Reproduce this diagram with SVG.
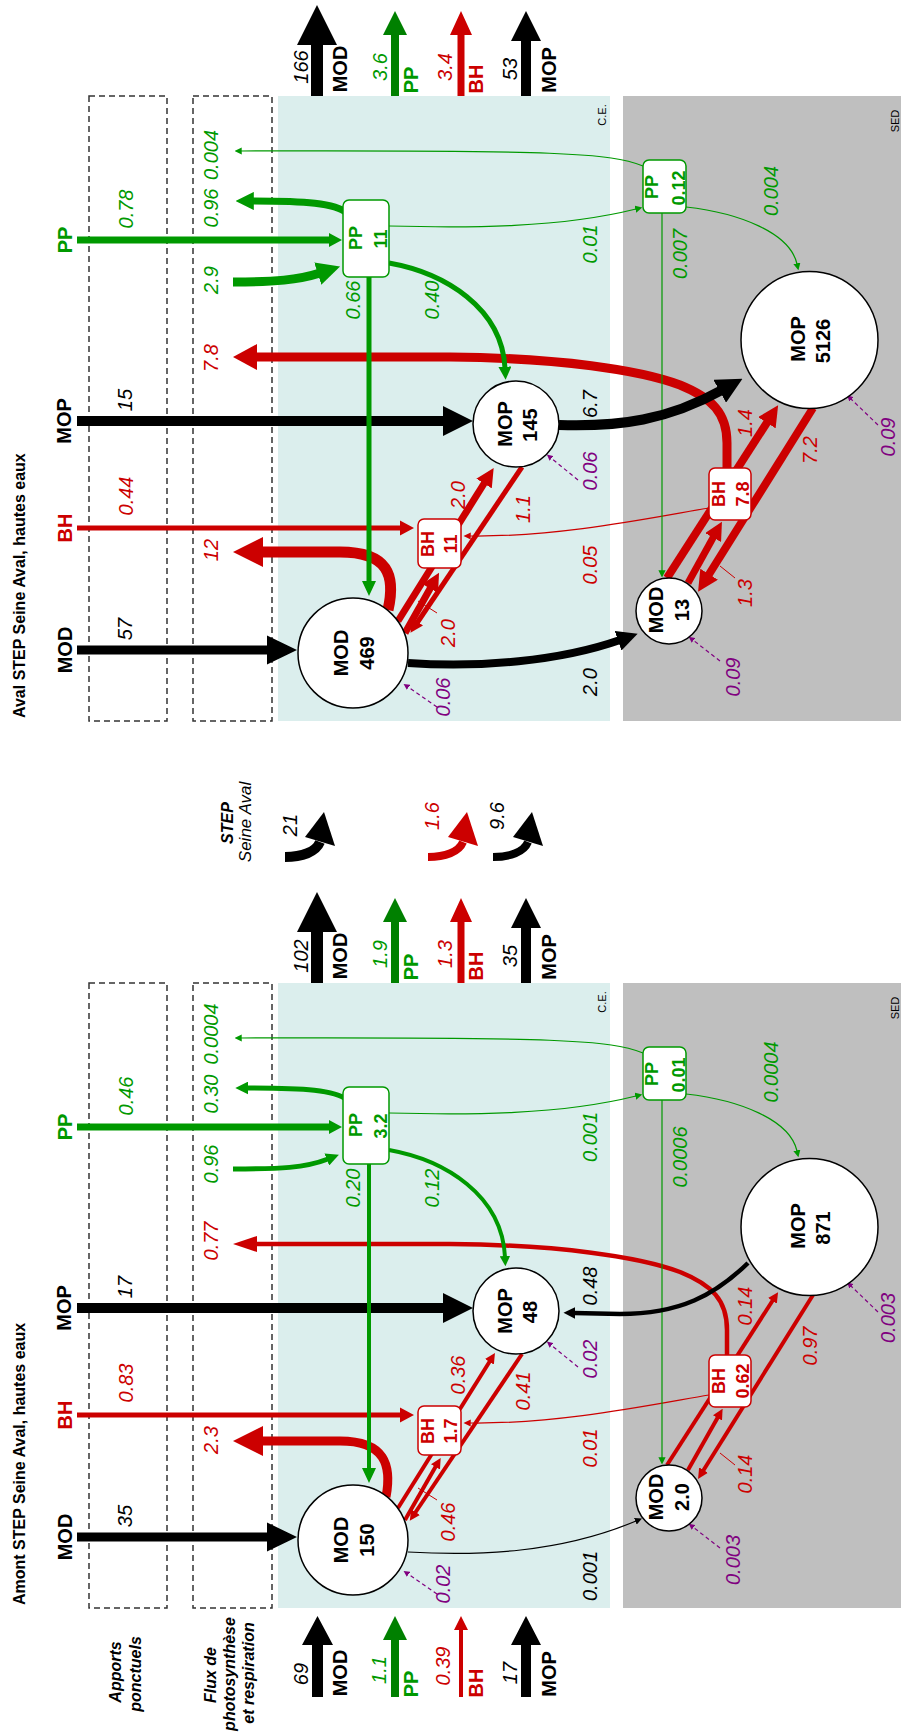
<svg xmlns="http://www.w3.org/2000/svg" width="901" height="1735" viewBox="0 0 901 1735">
<defs>
<style>
text{font-family:"Liberation Sans",Arial,sans-serif;text-anchor:middle}
.title{font-size:16px;font-weight:bold;text-anchor:start}
.leg{font-size:16px;font-weight:bold;font-style:italic}
.legi{font-size:17px;font-style:italic}
.sm{font-size:11px}
.vi{font-size:20px;font-style:italic}
.vb{font-size:20px;font-weight:bold}
.nb{font-size:20px;font-weight:bold}
.bx{font-size:18px;font-weight:bold}
.tg{fill:#009900}.tr{fill:#cc0000}.tk{fill:#000}.tp{fill:#800080}
.fk{fill:#000}.fr{fill:#cc0000}.fg{fill:#009900}.fgo{fill:#008000}
.sk{fill:none;stroke:#000}.sr{fill:none;stroke:#cc0000}.sg{fill:none;stroke:#009900}
.sp{fill:none;stroke:#800080;stroke-width:1.2;stroke-dasharray:4 3}
.dash{fill:none;stroke:#333;stroke-width:1.5;stroke-dasharray:6 4}
.ce{fill:#dbeeed}.sed{fill:#bfbfbf}
.nd{fill:#fff;stroke:#000;stroke-width:1.5}
.bg{fill:#fff;stroke:#009900;stroke-width:1.5}
.br{fill:#fff;stroke:#cc0000;stroke-width:1.5}
</style>
<marker id="mg" viewBox="0 0 10 10" refX="1" refY="5" markerWidth="2.6" markerHeight="2.6" orient="auto" markerUnits="strokeWidth"><path d="M0,0L10,5L0,10Z" fill="#009900"/></marker>
<marker id="mr" viewBox="0 0 10 10" refX="1" refY="5" markerWidth="2.6" markerHeight="2.6" orient="auto" markerUnits="strokeWidth"><path d="M0,0L10,5L0,10Z" fill="#cc0000"/></marker>
<marker id="mk" viewBox="0 0 10 10" refX="1" refY="5" markerWidth="2.6" markerHeight="2.6" orient="auto" markerUnits="strokeWidth"><path d="M0,0L10,5L0,10Z" fill="#000"/></marker>
<marker id="mgt" viewBox="0 0 10 10" refX="1" refY="5" markerWidth="6" markerHeight="6" orient="auto" markerUnits="strokeWidth"><path d="M0,0L10,5L0,10Z" fill="#009900"/></marker>
<marker id="mrt" viewBox="0 0 10 10" refX="1" refY="5" markerWidth="6" markerHeight="6" orient="auto" markerUnits="strokeWidth"><path d="M0,0L10,5L0,10Z" fill="#cc0000"/></marker>
<marker id="mkt" viewBox="0 0 10 10" refX="1" refY="5" markerWidth="6" markerHeight="6" orient="auto" markerUnits="strokeWidth"><path d="M0,0L10,5L0,10Z" fill="#000"/></marker>
<marker id="mpt" viewBox="0 0 10 10" refX="1" refY="5" markerWidth="5" markerHeight="5" orient="auto" markerUnits="strokeWidth"><path d="M0,0L10,5L0,10Z" fill="#800080"/></marker>
</defs>
<rect x="0" y="0" width="901" height="1735" fill="#fff"/>

<g id="amont">
<g id="amont-zones">
<rect class="dash" x="89" y="983" width="78" height="625"/>
<rect class="dash" x="193" y="983" width="79" height="625"/>
<rect class="ce" x="278" y="983" width="332" height="625"/>
<rect class="sed" x="623" y="983" width="290" height="625"/>
<text class="sm" transform="translate(606,1002) rotate(-90)">C.E.</text>
<text class="sm" transform="translate(899,1008) rotate(-90)">SED</text>
</g>
<text class="title" transform="translate(25,1605) rotate(-90)">Amont STEP Seine Aval, hautes eaux</text>
<g id="amont-legend">
<text class="leg" transform="translate(121,1672) rotate(-90)">Apports</text>
<text class="leg" transform="translate(141,1674) rotate(-90)">ponctuels</text>
<text class="leg" transform="translate(216,1675) rotate(-90)">Flux de</text>
<text class="leg" transform="translate(235,1674) rotate(-90)">photosynthèse</text>
<text class="leg" transform="translate(254,1673) rotate(-90)">et respiration</text>
</g>
<g id="amont-connectors">
<path class="fk" d="M77,1532.5H267V1522.5L297,1537L267,1551.5V1541.5H77Z"/>
<path class="fk" d="M77,1303H443V1293L473,1308L443,1323V1313H77Z"/>
<path class="fr" d="M77,1412.5H400V1407.5L414,1415L400,1422.5V1417.5H77Z"/>
<path class="fg" d="M77,1123.5H329V1120L342,1127L329,1134V1130.5H77Z"/>
<path class="fk" d="M311,983V932H297L317,892L337,932H323V983Z"/>
<path class="fgo" d="M391,983V922H383L395,898L407,922H399V983Z"/>
<path class="fr" d="M457.5,983V922H450L461,898L472,922H464.5V983Z"/>
<path class="fk" d="M521,983V928H511L526,898L541,928H531V983Z"/>
<path class="fk" d="M312,1697V1645H302L317.5,1616L333,1645H323V1697Z"/>
<path class="fgo" d="M391,1697V1640H383L395,1616L407,1640H399V1697Z"/>
<path class="fr" d="M459,1697V1630H454L461,1616L468,1630H463V1697Z"/>
<path class="fk" d="M521,1697V1645H511L526,1616L541,1645H531V1697Z"/>
<path class="sr" stroke-width="9" d="M386,1497C392,1465 385,1441 340,1441L262,1441"/>
<path class="fr" d="M263,1426L233,1441L263,1456Z"/>
<path class="sr" stroke-width="4.5" d="M727,1355L727,1330C727,1300 712,1285 680,1272C640,1257 560,1245 450,1244L256,1244"/>
<path class="fr" d="M257,1236L233,1244L257,1252Z"/>
<path class="sr" stroke-width="4" d="M398,1508L490,1361" marker-end="url(#mr)"/>
<path class="sr" stroke-width="4" d="M405,1520L436,1466" marker-end="url(#mr)"/>
<path class="sr" stroke-width="4" d="M522,1354L415,1513" marker-end="url(#mr)"/>
<path class="sr" stroke-width="1" d="M418,1488L437,1500"/>
<path class="sr" stroke-width="4" d="M667,1465L773,1300" marker-end="url(#mr)"/>
<path class="sr" stroke-width="4" d="M688,1470L718,1417" marker-end="url(#mr)"/>
<path class="sr" stroke-width="4" d="M813,1295L703,1471" marker-end="url(#mr)"/>
<path class="sr" stroke-width="1" d="M720,1453L735,1465"/>
<path class="sr" stroke-width="1.2" d="M709,1395C650,1405 560,1424 470,1423" marker-end="url(#mrt)"/>
<path class="fg" d="M367,1164V1468H362L369,1483L376,1468H371V1164Z"/>
<path class="sg" stroke-width="5" d="M233,1169C280,1169 305,1168 328,1159" marker-end="url(#mg)"/>
<path class="sg" stroke-width="5" d="M347,1100C335,1090 305,1088 247,1088" marker-end="url(#mg)"/>
<path class="sg" stroke-width="4" d="M389,1150C445,1160 502,1195 505,1257" marker-end="url(#mg)"/>
<path class="sg" stroke-width="1.2" d="M643,1053C610,1040 560,1037 241,1038" marker-end="url(#mgt)"/>
<path class="sg" stroke-width="1.2" d="M389,1113C470,1115 560,1115 636,1096" marker-end="url(#mgt)"/>
<path class="sg" stroke-width="1.2" d="M662,1100V1458" marker-end="url(#mgt)"/>
<path class="sg" stroke-width="1.2" d="M686,1094C740,1100 790,1120 797,1151" marker-end="url(#mgt)"/>
<path class="sk" stroke-width="4.5" d="M748,1263C715,1295 680,1314 620,1314L574,1313" marker-end="url(#mk)"/>
<path class="sk" stroke-width="1.2" d="M408,1552C480,1556 560,1553 636,1521" marker-end="url(#mkt)"/>
<path class="sp" d="M437,1594L408,1574" marker-end="url(#mpt)"/>
<path class="sp" d="M578,1367L551,1345" marker-end="url(#mpt)"/>
<path class="sp" d="M720,1548L693,1527" marker-end="url(#mpt)"/>
<path class="sp" d="M878,1312L851,1286" marker-end="url(#mpt)"/>
</g>
<g id="amont-mod-ce"><circle class="nd" cx="353" cy="1540" r="55"/><text class="nb" transform="translate(348,1540) rotate(-90)">MOD</text><text class="nb" transform="translate(374,1540) rotate(-90)">150</text></g>
<g id="amont-mop-ce"><circle class="nd" cx="516" cy="1311" r="43"/><text class="nb" transform="translate(512,1311) rotate(-90)">MOP</text><text class="nb" transform="translate(537,1312) rotate(-90)">48</text></g>
<g id="amont-mop-sed"><circle class="nd" cx="809.5" cy="1227" r="68.5"/><text class="nb" transform="translate(805,1226) rotate(-90)">MOP</text><text class="nb" transform="translate(830,1228) rotate(-90)">871</text></g>
<g id="amont-mod-sed"><circle class="nd" cx="669" cy="1498" r="33"/><text class="nb" transform="translate(663,1497) rotate(-90)">MOD</text><text class="nb" transform="translate(689,1497) rotate(-90)">2.0</text></g>
<g id="amont-pp-ce"><rect class="bg" x="343" y="1087" width="46" height="77" rx="6"/><text class="bx tg" transform="translate(362,1125) rotate(-90)">PP</text><text class="bx tg" transform="translate(387,1126) rotate(-90)">3.2</text></g>
<g id="amont-pp-sed"><rect class="bg" x="643" y="1047" width="43" height="53" rx="6"/><text class="bx tg" transform="translate(658,1074) rotate(-90)">PP</text><text class="bx tg" transform="translate(685,1075) rotate(-90)">0.01</text></g>
<g id="amont-bh-ce"><rect class="br" x="418" y="1406" width="43" height="49" rx="6"/><text class="bx tr" transform="translate(434,1431) rotate(-90)">BH</text><text class="bx tr" transform="translate(457,1431) rotate(-90)">1.7</text></g>
<g id="amont-bh-sed"><rect class="br" x="709" y="1355" width="42" height="52" rx="6"/><text class="bx tr" transform="translate(725,1381) rotate(-90)">BH</text><text class="bx tr" transform="translate(749,1381) rotate(-90)">0.62</text></g>
<g id="amont-labels">
<text class="vb tk" transform="translate(72,1537) rotate(-90)">MOD</text>
<text class="vi tk" transform="translate(132,1516) rotate(-90)">35</text>
<text class="vb tk" transform="translate(71,1308) rotate(-90)">MOP</text>
<text class="vi tk" transform="translate(132,1287) rotate(-90)">17</text>
<text class="vb tr" transform="translate(72,1415) rotate(-90)">BH</text>
<text class="vi tr" transform="translate(133,1383) rotate(-90)">0.83</text>
<text class="vb tg" transform="translate(72,1127) rotate(-90)">PP</text>
<text class="vi tg" transform="translate(133,1096) rotate(-90)">0.46</text>
<text class="vi tr" transform="translate(218,1440) rotate(-90)">2.3</text>
<text class="vi tr" transform="translate(218,1241) rotate(-90)">0.77</text>
<text class="vi tg" transform="translate(218,1164) rotate(-90)">0.96</text>
<text class="vi tg" transform="translate(218,1094) rotate(-90)">0.30</text>
<text class="vi tg" transform="translate(218,1034) rotate(-90)">0.0004</text>
<text class="vi tg" transform="translate(597,1137) rotate(-90)">0.001</text>
<text class="vi tk" transform="translate(597,1286) rotate(-90)">0.48</text>
<text class="vi tp" transform="translate(597,1359) rotate(-90)">0.02</text>
<text class="vi tr" transform="translate(597,1448) rotate(-90)">0.01</text>
<text class="vi tk" transform="translate(597,1576) rotate(-90)">0.001</text>
<text class="vi tg" transform="translate(687,1157) rotate(-90)">0.0006</text>
<text class="vi tg" transform="translate(778,1072) rotate(-90)">0.0004</text>
<text class="vi tr" transform="translate(752,1306) rotate(-90)">0.14</text>
<text class="vi tr" transform="translate(817,1346) rotate(-90)">0.97</text>
<text class="vi tr" transform="translate(752,1474) rotate(-90)">0.14</text>
<text class="vi tp" transform="translate(895,1318) rotate(-90)">0.003</text>
<text class="vi tp" transform="translate(740,1560) rotate(-90)">0.003</text>
<text class="vi tg" transform="translate(360,1188) rotate(-90)">0.20</text>
<text class="vi tg" transform="translate(439,1188) rotate(-90)">0.12</text>
<text class="vi tr" transform="translate(465,1375) rotate(-90)">0.36</text>
<text class="vi tr" transform="translate(530,1391) rotate(-90)">0.41</text>
<text class="vi tr" transform="translate(455,1522) rotate(-90)">0.46</text>
<text class="vi tp" transform="translate(450,1584) rotate(-90)">0.02</text>
<text class="vi tk" transform="translate(308,956) rotate(-90)">102</text>
<text class="vb tk" transform="translate(347,956) rotate(-90)">MOD</text>
<text class="vi tg" transform="translate(387,954) rotate(-90)">1.9</text>
<text class="vb tg" transform="translate(418,967) rotate(-90)">PP</text>
<text class="vi tr" transform="translate(452,954) rotate(-90)">1.3</text>
<text class="vb tr" transform="translate(483,966) rotate(-90)">BH</text>
<text class="vi tk" transform="translate(517,956) rotate(-90)">35</text>
<text class="vb tk" transform="translate(556,957) rotate(-90)">MOP</text>
<text class="vi tk" transform="translate(308,1674) rotate(-90)">69</text>
<text class="vb tk" transform="translate(347,1673) rotate(-90)">MOD</text>
<text class="vi tg" transform="translate(386,1670) rotate(-90)">1.1</text>
<text class="vb tg" transform="translate(418,1684) rotate(-90)">PP</text>
<text class="vi tr" transform="translate(450,1666) rotate(-90)">0.39</text>
<text class="vb tr" transform="translate(483,1683) rotate(-90)">BH</text>
<text class="vi tk" transform="translate(517,1673) rotate(-90)">17</text>
<text class="vb tk" transform="translate(556,1674) rotate(-90)">MOP</text>
</g>
</g>

<g id="aval" transform="translate(0,-887)">
<g id="aval-zones">
<rect class="dash" x="89" y="983" width="78" height="625"/>
<rect class="dash" x="193" y="983" width="79" height="625"/>
<rect class="ce" x="278" y="983" width="332" height="625"/>
<rect class="sed" x="623" y="983" width="290" height="625"/>
<text class="sm" transform="translate(606,1002) rotate(-90)">C.E.</text>
<text class="sm" transform="translate(899,1008) rotate(-90)">SED</text>
</g>
<text class="title" transform="translate(25,1605) rotate(-90)">Aval STEP Seine Aval, hautes eaux</text>
<g id="aval-connectors">
<path class="fk" d="M77,1532.5H267V1522.5L297,1537L267,1551.5V1541.5H77Z"/>
<path class="fk" d="M77,1303H443V1293L473,1308L443,1323V1313H77Z"/>
<path class="fr" d="M77,1412.5H400V1407.5L414,1415L400,1422.5V1417.5H77Z"/>
<path class="fg" d="M77,1123.5H329V1120L342,1127L329,1134V1130.5H77Z"/>
<path class="fk" d="M311,983V932H297L317,892L337,932H323V983Z"/>
<path class="fgo" d="M391,983V922H383L395,898L407,922H399V983Z"/>
<path class="fr" d="M457.5,983V922H450L461,898L472,922H464.5V983Z"/>
<path class="fk" d="M521,983V928H511L526,898L541,928H531V983Z"/>
<path class="sr" stroke-width="11" d="M388,1497C396,1462 388,1439 340,1439L262,1439"/>
<path class="fr" d="M263,1424L233,1439L263,1454Z"/>
<path class="sr" stroke-width="9" d="M727,1355L727,1330C727,1300 712,1285 680,1272C640,1257 560,1245 450,1244L256,1244"/>
<path class="fr" d="M257,1231L233,1244L257,1257Z"/>
<path class="sr" stroke-width="7" d="M398,1508L485,1369" marker-end="url(#mr)"/>
<path class="sr" stroke-width="7" d="M405,1520L431,1474" marker-end="url(#mr)"/>
<path class="sr" stroke-width="5" d="M522,1354L417,1510" marker-end="url(#mr)"/>
<path class="sr" stroke-width="1" d="M418,1488L437,1500"/>
<path class="sr" stroke-width="8" d="M667,1465L768,1308" marker-end="url(#mr)"/>
<path class="sr" stroke-width="7" d="M688,1470L714,1423" marker-end="url(#mr)"/>
<path class="sr" stroke-width="8" d="M813,1295L708,1463" marker-end="url(#mr)"/>
<path class="sr" stroke-width="1" d="M720,1453L735,1465"/>
<path class="sr" stroke-width="1.2" d="M709,1395C650,1405 560,1424 470,1423" marker-end="url(#mrt)"/>
<path class="fg" d="M366.5,1164V1468H362L369,1483L376,1468H371.5V1164Z"/>
<path class="sg" stroke-width="9" d="M233,1169C275,1169 298,1167 320,1160" marker-end="url(#mg)"/>
<path class="sg" stroke-width="7" d="M347,1100C335,1090 305,1088 252,1088" marker-end="url(#mg)"/>
<path class="sg" stroke-width="5" d="M389,1150C445,1160 502,1195 505,1255" marker-end="url(#mg)"/>
<path class="sg" stroke-width="1.2" d="M643,1053C610,1040 560,1037 241,1038" marker-end="url(#mgt)"/>
<path class="sg" stroke-width="1.2" d="M389,1113C470,1115 560,1115 636,1096" marker-end="url(#mgt)"/>
<path class="sg" stroke-width="1.2" d="M662,1100V1458" marker-end="url(#mgt)"/>
<path class="sg" stroke-width="1.2" d="M686,1094C740,1100 790,1120 797,1151" marker-end="url(#mgt)"/>
<path class="sk" stroke-width="10" d="M559,1312C620,1314 668,1307 722,1277" marker-end="url(#mk)"/>
<path class="sk" stroke-width="8" d="M408,1550C480,1555 560,1548 620,1527" marker-end="url(#mk)"/>
<path class="sp" d="M437,1594L408,1574" marker-end="url(#mpt)"/>
<path class="sp" d="M578,1367L551,1345" marker-end="url(#mpt)"/>
<path class="sp" d="M720,1548L693,1527" marker-end="url(#mpt)"/>
<path class="sp" d="M878,1312L851,1286" marker-end="url(#mpt)"/>
</g>
<g id="aval-mod-ce"><circle class="nd" cx="353" cy="1540" r="55"/><text class="nb" transform="translate(348,1540) rotate(-90)">MOD</text><text class="nb" transform="translate(374,1540) rotate(-90)">469</text></g>
<g id="aval-mop-ce"><circle class="nd" cx="516" cy="1311" r="43"/><text class="nb" transform="translate(512,1311) rotate(-90)">MOP</text><text class="nb" transform="translate(537,1312) rotate(-90)">145</text></g>
<g id="aval-mop-sed"><circle class="nd" cx="809.5" cy="1227" r="68.5"/><text class="nb" transform="translate(805,1226) rotate(-90)">MOP</text><text class="nb" transform="translate(830,1228) rotate(-90)">5126</text></g>
<g id="aval-mod-sed"><circle class="nd" cx="669" cy="1498" r="33"/><text class="nb" transform="translate(663,1497) rotate(-90)">MOD</text><text class="nb" transform="translate(689,1497) rotate(-90)">13</text></g>
<g id="aval-pp-ce"><rect class="bg" x="343" y="1087" width="46" height="77" rx="6"/><text class="bx tg" transform="translate(362,1125) rotate(-90)">PP</text><text class="bx tg" transform="translate(387,1126) rotate(-90)">11</text></g>
<g id="aval-pp-sed"><rect class="bg" x="643" y="1047" width="43" height="53" rx="6"/><text class="bx tg" transform="translate(658,1074) rotate(-90)">PP</text><text class="bx tg" transform="translate(685,1075) rotate(-90)">0.12</text></g>
<g id="aval-bh-ce"><rect class="br" x="418" y="1406" width="43" height="49" rx="6"/><text class="bx tr" transform="translate(434,1431) rotate(-90)">BH</text><text class="bx tr" transform="translate(457,1431) rotate(-90)">11</text></g>
<g id="aval-bh-sed"><rect class="br" x="709" y="1355" width="42" height="52" rx="6"/><text class="bx tr" transform="translate(725,1381) rotate(-90)">BH</text><text class="bx tr" transform="translate(749,1381) rotate(-90)">7.8</text></g>
<g id="aval-labels">
<text class="vb tk" transform="translate(72,1537) rotate(-90)">MOD</text>
<text class="vi tk" transform="translate(132,1516) rotate(-90)">57</text>
<text class="vb tk" transform="translate(71,1308) rotate(-90)">MOP</text>
<text class="vi tk" transform="translate(132,1287) rotate(-90)">15</text>
<text class="vb tr" transform="translate(72,1415) rotate(-90)">BH</text>
<text class="vi tr" transform="translate(133,1383) rotate(-90)">0.44</text>
<text class="vb tg" transform="translate(72,1127) rotate(-90)">PP</text>
<text class="vi tg" transform="translate(133,1096) rotate(-90)">0.78</text>
<text class="vi tr" transform="translate(218,1437) rotate(-90)">12</text>
<text class="vi tr" transform="translate(218,1245) rotate(-90)">7.8</text>
<text class="vi tg" transform="translate(218,1167) rotate(-90)">2.9</text>
<text class="vi tg" transform="translate(218,1095) rotate(-90)">0.96</text>
<text class="vi tg" transform="translate(218,1042) rotate(-90)">0.004</text>
<text class="vi tg" transform="translate(597,1131) rotate(-90)">0.01</text>
<text class="vi tk" transform="translate(597,1291) rotate(-90)">6.7</text>
<text class="vi tp" transform="translate(597,1358) rotate(-90)">0.06</text>
<text class="vi tr" transform="translate(597,1452) rotate(-90)">0.05</text>
<text class="vi tk" transform="translate(597,1569) rotate(-90)">2.0</text>
<text class="vi tg" transform="translate(687,1141) rotate(-90)">0.007</text>
<text class="vi tg" transform="translate(778,1078) rotate(-90)">0.004</text>
<text class="vi tr" transform="translate(752,1310) rotate(-90)">1.4</text>
<text class="vi tr" transform="translate(817,1337) rotate(-90)">7.2</text>
<text class="vi tr" transform="translate(752,1480) rotate(-90)">1.3</text>
<text class="vi tp" transform="translate(895,1324) rotate(-90)">0.09</text>
<text class="vi tp" transform="translate(740,1564) rotate(-90)">0.09</text>
<text class="vi tg" transform="translate(360,1187) rotate(-90)">0.66</text>
<text class="vi tg" transform="translate(439,1187) rotate(-90)">0.40</text>
<text class="vi tr" transform="translate(465,1382) rotate(-90)">2.0</text>
<text class="vi tr" transform="translate(530,1396) rotate(-90)">1.1</text>
<text class="vi tr" transform="translate(455,1520) rotate(-90)">2.0</text>
<text class="vi tp" transform="translate(450,1584) rotate(-90)">0.06</text>
<text class="vi tk" transform="translate(308,954) rotate(-90)">166</text>
<text class="vb tk" transform="translate(347,956) rotate(-90)">MOD</text>
<text class="vi tg" transform="translate(387,954) rotate(-90)">3.6</text>
<text class="vb tg" transform="translate(418,967) rotate(-90)">PP</text>
<text class="vi tr" transform="translate(452,954) rotate(-90)">3.4</text>
<text class="vb tr" transform="translate(483,966) rotate(-90)">BH</text>
<text class="vi tk" transform="translate(517,956) rotate(-90)">53</text>
<text class="vb tk" transform="translate(556,957) rotate(-90)">MOP</text>
</g>
</g>

<g id="step-seine-aval">
<text class="leg" transform="translate(233,823) rotate(-90)">STEP</text>
<text class="legi" transform="translate(251,822) rotate(-90)">Seine Aval</text>
<path class="sk" stroke-width="10" d="M285,857C302,857 316,852 320,842"/>
<path class="fk" d="M305,837L324,812L335,846Z"/>
<path class="sr" stroke-width="8" d="M428,857C445,857 459,852 463,842"/>
<path class="fr" d="M448,837L467,812L478,846Z"/>
<path class="sk" stroke-width="8" d="M493,857C510,857 524,852 528,842"/>
<path class="fk" d="M513,837L532,812L543,846Z"/>
<text class="vi tk" transform="translate(297,825) rotate(-90)">21</text>
<text class="vi tr" transform="translate(439,816) rotate(-90)">1.6</text>
<text class="vi tk" transform="translate(504,816) rotate(-90)">9.6</text>
</g>
</svg>
